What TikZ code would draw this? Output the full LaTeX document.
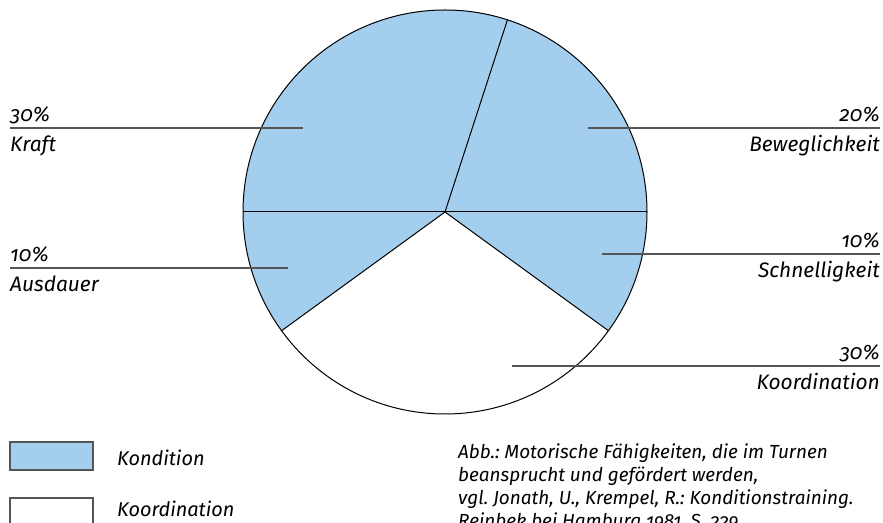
\documentclass[tikz,border=0pt]{standalone}
\usepackage{fontspec}
\setmainfont{Fira Sans}[Numbers=OldStyle]
\usetikzlibrary{positioning}
\definecolor{kondblue}{RGB}{163,206,238}
\definecolor{linegray}{RGB}{85,85,85}
\frenchspacing

\begin{document}
\begin{tikzpicture}[x=1bp, y=1bp,
    slice/.style={draw=black, line width=1bp, line join=round},
    leader/.style={draw=linegray, line width=1.3bp},
    lbl/.style={font=\fontsize{21}{25}\selectfont\itshape, inner sep=0pt},
    legtext/.style={font=\fontsize{20}{24}\selectfont\itshape, inner sep=0pt},
    captext/.style={font=\fontsize{19}{23}\selectfont\itshape, inner sep=0pt, anchor=base west},
    legendbox/.style={draw=linegray, line width=1.3bp, minimum width=83bp, minimum height=28bp, inner sep=0pt}
]
\useasboundingbox (0,0) rectangle (883,523);
\clip (0,0) rectangle (883,523);
\coordinate (c) at (445,311);
\fill[kondblue] (c) -- ++(-36:202) arc[start angle=-36, end angle=216, radius=202] -- cycle;
\draw[slice] (c) circle[radius=202];
\path (c) ++(72:202) coordinate (r72) (c) ++(0:202) coordinate (r0) (c) ++(180:202) coordinate (r180)
      (c) ++(216:202) coordinate (r216) (c) ++(-36:202) coordinate (r324);
\draw[slice] (c) -- (r72);
\draw[slice] (r180) -- (r0);
\draw[slice] (r216) -- (c) -- (r324);

\coordinate (kraftin) at (303,395);
\coordinate (kraftout) at (10,395);
\coordinate (bewin) at (588,395);
\coordinate (bewout) at (880,395);
\coordinate (ausin) at (288,255);
\coordinate (ausout) at (10,255);
\coordinate (schin) at (602,269);
\coordinate (schout) at (880,269);
\coordinate (koin) at (512,157);
\coordinate (koout) at (880,157);
\draw[leader] (kraftin) -- (kraftout);
\draw[leader] (bewin) -- (bewout);
\draw[leader] (ausin) -- (ausout);
\draw[leader] (schin) -- (schout);
\draw[leader] (koin) -- (koout);

\node[lbl, above=6bp of kraftout, anchor=base west] (kraftpct) {30\%};
\node[lbl, below=24bp of kraftout, anchor=base west] (kraft) {Kraft};
\node[lbl, above=6bp of bewout, anchor=base east] (bewpct) {20\%};
\node[lbl, below=24bp of bewout, anchor=base east] (bew) {Beweglichkeit};
\node[lbl, above=6bp of ausout, anchor=base west] (auspct) {10\%};
\node[lbl, below=24bp of ausout, anchor=base west] (aus) {Ausdauer};
\node[lbl, above=6bp of schout, anchor=base east] (schpct) {10\%};
\node[lbl, below=24bp of schout, anchor=base east] (sch) {Schnelligkeit};
\node[lbl, above=6bp of koout, anchor=base east] (kopct) {30\%};
\node[lbl, below=24bp of koout, anchor=base east] (ko) {Koordination};

\node[legendbox, fill=kondblue] (kondbox) at (51.5,67) {};
\node[legendbox, fill=white] (kobox) at (51.5,11) {};
\node[legtext, anchor=base west] (kondtext) at (117,57) {Kondition};
\node[legtext, anchor=base west] (kotext) at (117,6) {Koordination};

\node[captext] (cap1) at (458,64) {Abb.: Motorische Fähigkeiten, die im Turnen};
\node[captext] (cap2) at ([yshift=-23bp]cap1.base west) {beansprucht und gefördert werden,};
\node[captext] (cap3) at ([yshift=-23bp]cap2.base west) {vgl. Jonath, U., Krempel, R.: Konditionstraining.};
\node[captext] (cap4) at ([yshift=-23bp]cap3.base west) {Reinbek bei Hamburg 1981, S. 229};
\end{tikzpicture}
\end{document}
